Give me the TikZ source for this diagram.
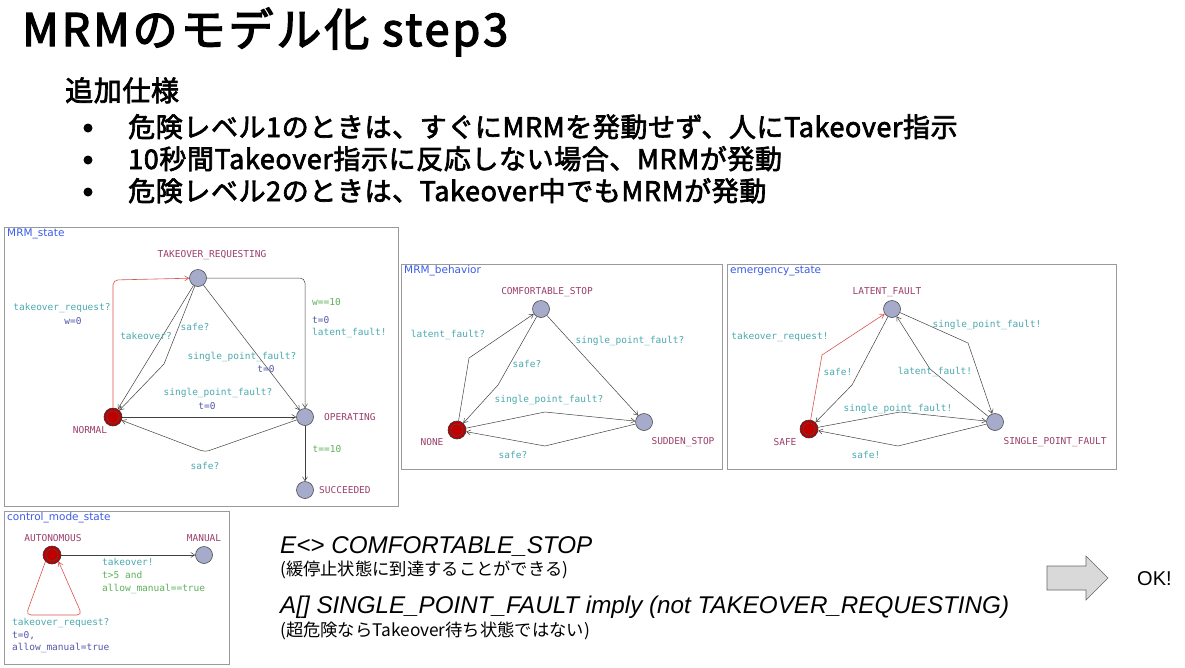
\documentclass[tikz,border=0pt]{standalone}
\usepackage{fontspec}
\usetikzlibrary{arrows.meta}
\newfontfamily\cjk{Noto Sans CJK JP}
\newfontfamily\cjktitle[LetterSpace=6.5,FakeBold=3]{Noto Sans CJK JP}
\newfontfamily\cjkmed[LetterSpace=2.2,FakeBold=2.5]{Noto Sans CJK JP}
\newfontfamily\mono{DejaVu Sans Mono}
\newfontfamily\lsans{Liberation Sans}
\newfontfamily\dsans{DejaVu Sans}
\definecolor{locfill}{HTML}{A6ABCC}
\definecolor{initred}{HTML}{C00000}
\definecolor{locname}{HTML}{9A3F6A}
\definecolor{synccol}{HTML}{4BA9AE}
\definecolor{updcol}{HTML}{5457A8}
\definecolor{guardcol}{HTML}{5DB05A}
\definecolor{titlecol}{HTML}{3A5BE8}
\definecolor{framecol}{HTML}{9A9A9A}
\definecolor{redge}{HTML}{D9534F}
\definecolor{arrfill}{HTML}{D9D9D9}
\tikzset{
  loc/.style={circle,draw=black!70,fill=locfill,minimum size=17pt,inner sep=0pt,line width=0.6pt},
  initloc/.style={circle,draw=black!80,fill=initred,minimum size=18pt,inner sep=0pt,line width=0.6pt},
  innerring/.style={draw=black!70,line width=0.5pt},
  edge/.style={draw=black!75,line width=0.5pt,-{Straight Barb[length=4pt,width=5pt]}},
  redgeline/.style={draw=redge,line width=0.6pt,rounded corners=5pt,-{Straight Barb[length=4pt,width=5pt]}},
  frame/.style={draw=framecol,line width=0.8pt},
  ptitle/.style={font=\dsans\fontsize{10.5}{11}\selectfont,text=titlecol,anchor=west,inner sep=0pt},
  lname/.style={font=\mono\fontsize{9.5}{11}\selectfont,text=locname,inner sep=0pt},
  sync/.style={font=\mono\fontsize{9.5}{11}\selectfont,text=synccol,inner sep=0pt},
  upd/.style={font=\mono\fontsize{9.5}{11}\selectfont,text=updcol,inner sep=0pt},
  guard/.style={font=\mono\fontsize{9.5}{11}\selectfont,text=guardcol,inner sep=0pt},
  bigtext/.style={anchor=base west,inner sep=0pt},
}
\begin{document}
\begin{tikzpicture}[x=1pt,y=-1pt]
\useasboundingbox (0,0) rectangle (1185,667);

% ---------- heading text ----------
\node[bigtext] (title) at (22,46) {\cjktitle\fontsize{45}{45}\selectfont MRMのモデル化 step3};
\node[bigtext] (sub) at (65,101) {\cjkmed\fontsize{28}{28}\selectfont 追加仕様};
\fill (88,128) circle (4.5);
\fill (88,160) circle (4.5);
\fill (88,192) circle (4.5);
\node[bigtext] (b1) at (128,137) {\cjkmed\fontsize{27}{27}\selectfont 危険レベル1のときは、すぐにMRMを発動せず、人にTakeover指示};
\node[bigtext] (b2) at (128,169) {\cjkmed\fontsize{27}{27}\selectfont 10秒間Takeover指示に反応しない場合、MRMが発動};
\node[bigtext] (b3) at (128,201) {\cjkmed\fontsize{27}{27}\selectfont 危険レベル2のときは、Takeover中でもMRMが発動};

% ---------- panel 1: MRM_state ----------
\draw[frame] (4,227) rectangle (398,506);
\node[ptitle] (t1) at (7,234) {MRM\_state};
\node[loc] (TR) at (198,278) {};
\node[initloc] (NO) at (113,417) {};
\draw[innerring] (NO.center) circle (6);
\node[loc] (OP) at (305,417) {};
\node[loc] (SU) at (305,490) {};
\node[lname] at (212,255) {TAKEOVER\_REQUESTING};
\node[lname] at (90,430) {NORMAL};
\node[lname,anchor=west] at (324,417) {OPERATING};
\node[lname,anchor=west] at (319,490) {SUCCEEDED};

\draw[redgeline] (NO) -- (113,280) -- (TR);
\node[sync] at (62,308) {takeover\_request?};
\node[upd] at (73,321) {w=0};

\draw[edge] (TR) -- (NO);
\draw[edge] (TR) -- (164,364) -- (NO);
\node[sync] at (146,336) {takeover?};
\node[sync] at (195,327) {safe?};

\draw[edge] (TR) -- (OP);
\node[sync] at (242,357) {single\_point\_fault?};
\node[upd] at (266,369) {t=0};

\draw[edge,rounded corners=5pt] (TR) -- (305,278) -- (OP);
\node[guard,anchor=west] at (312,302) {w==10};
\node[upd,anchor=west] at (312,320) {t=0};
\node[sync,anchor=west] at (312,333) {latent\_fault!};

\draw[edge] (NO) -- (OP);
\node[sync] at (218,393) {single\_point\_fault?};
\node[upd] at (207,406) {t=0};

\draw[edge,rounded corners=4pt] (OP) -- (205,452) -- (NO);
\node[sync] at (205,466) {safe?};

\draw[edge] (OP) -- (SU);
\node[guard] at (327,449) {t==10};

% ---------- panel 2: MRM_behavior ----------
\draw[frame] (401,264) rectangle (722,469);
\node[ptitle] (t2) at (404,271) {MRM\_behavior};
\node[loc] (CS) at (541,309) {};
\node[initloc] (NN) at (457,430) {};
\draw[innerring] (NN.center) circle (6);
\node[loc] (SS) at (644,422) {};
\node[lname] at (547,292) {COMFORTABLE\_STOP};
\node[lname] at (432,442) {NONE};
\node[lname] at (683,442) {SUDDEN\_STOP};

\draw[edge] (NN) -- (469,358) -- (CS);
\node[sync] at (448,335) {latent\_fault?};
\draw[edge] (CS) -- (498,385) -- (NN);
\node[sync] at (527,364) {safe?};
\draw[edge] (CS) -- (SS);
\node[sync] at (630,341) {single\_point\_fault?};
\draw[edge] (NN) -- (545,412) -- (SS);
\node[sync] at (549,400) {single\_point\_fault?};
\draw[edge] (SS) -- (545,446) -- (NN);
\node[sync] at (513,455) {safe?};

% ---------- panel 3: emergency_state ----------
\draw[frame] (727,264) rectangle (1116,469);
\node[ptitle] (t3) at (730,271) {emergency\_state};
\node[loc] (LF) at (892,309) {};
\node[initloc] (SF) at (809,429) {};
\draw[innerring] (SF.center) circle (6);
\node[loc] (SP) at (995,422) {};
\node[lname] at (887,292) {LATENT\_FAULT};
\node[lname] at (785,442) {SAFE};
\node[lname] at (1055,442) {SINGLE\_POINT\_FAULT};

\draw[draw=redge,line width=0.6pt,-{Straight Barb[length=4pt,width=5pt]}] (SF) -- (822,355) -- (LF);
\node[sync] at (780,337) {takeover\_request!};
\draw[edge] (LF) -- (852,385) -- (SF);
\node[sync] at (838,372) {safe!};
\draw[edge] (LF) -- (968,343) -- (SP);
\node[sync] at (987,325) {single\_point\_fault!};
\draw[edge] (SP) -- (930,369) -- (LF);
\node[sync] at (935,372) {latent\_fault!};
\draw[edge] (SF) -- (900,412) -- (SP);
\node[sync] at (898,409) {single\_point\_fault!};
\draw[edge] (SP) -- (898,446) -- (SF);
\node[sync] at (866,455) {safe!};

% ---------- panel 4: control_mode_state ----------
\draw[frame] (4,511) rectangle (229,664);
\node[ptitle] (t4) at (7,518) {control\_mode\_state};
\node[initloc] (AU) at (52,555) {};
\draw[innerring] (AU.center) circle (6);
\node[loc] (MA) at (204,555) {};
\node[lname] at (53,538) {AUTONOMOUS};
\node[lname] at (204,538) {MANUAL};
\draw[edge] (AU) -- (MA);
\node[sync,anchor=west] at (102,562) {takeover!};
\node[guard,anchor=west] at (102,575) {t>5 and};
\node[guard,anchor=west] at (102,589) {allow\_manual==true};
\draw[draw=redge,line width=0.6pt,rounded corners=5pt,-{Straight Barb[length=4pt,width=5pt]}] (AU.south west) -- (26,615) -- (82,615) -- (AU.south east);
\node[sync,anchor=west] at (12,623) {takeover\_request?};
\node[upd,anchor=west] at (12,636) {t=0,};
\node[upd,anchor=west] at (12,648) {allow\_manual=true};

% ---------- queries ----------
\node[bigtext] (q1) at (280,553) {\lsans\itshape\fontsize{24.2}{24}\selectfont E<> COMFORTABLE\_STOP};
\node[bigtext] (q1s) at (280,575) {\cjk\fontsize{17.3}{17}\selectfont (緩停止状態に到達することができる)};
\node[bigtext] (q2) at (280,613) {\lsans\itshape\fontsize{24.2}{24}\selectfont A[] SINGLE\_POINT\_FAULT imply (not TAKEOVER\_REQUESTING)};
\node[bigtext] (q2s) at (280,636) {\cjk\fontsize{17.3}{17}\selectfont (超危険ならTakeover待ち状態ではない)};

\draw[draw=black!60,fill=arrfill,line width=0.6pt] (1047,566) -- (1086,566) -- (1086,556) -- (1108,578) -- (1086,600) -- (1086,590) -- (1047,590) -- cycle;
\node[anchor=west,inner sep=0pt] (ok) at (1137,579) {\lsans\fontsize{20}{20}\selectfont OK!};
\end{tikzpicture}
\end{document}
